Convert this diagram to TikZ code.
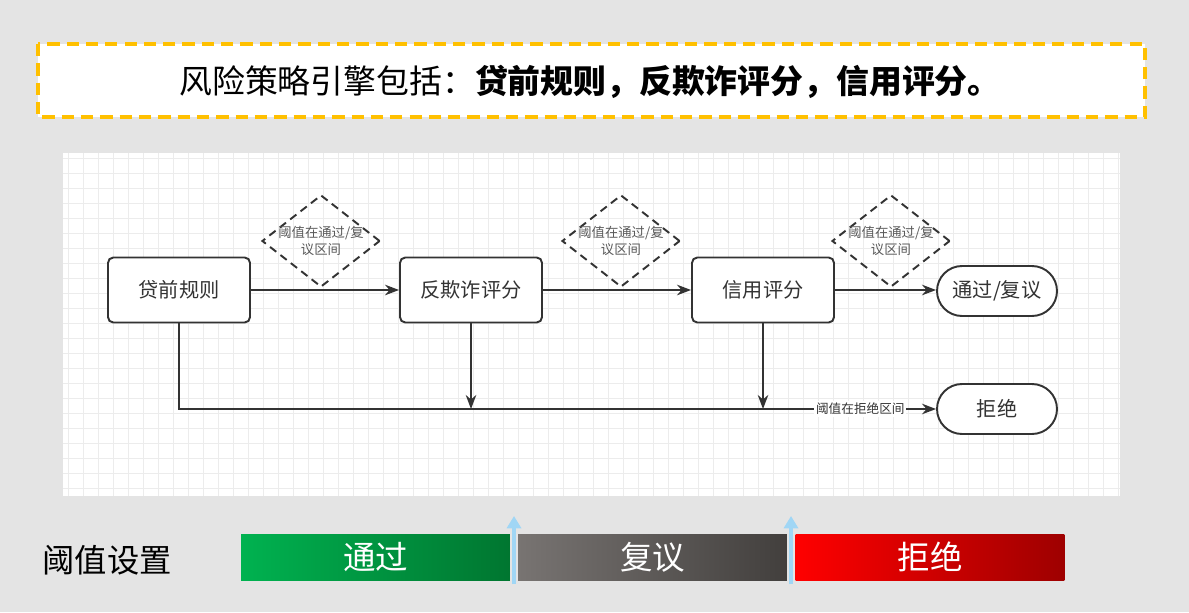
\documentclass[tikz,border=0pt]{standalone}
\usepackage{fontspec}
\setmainfont{Noto Sans CJK SC}
\usepackage{xcolor}
\definecolor{mybg}          {RGB}{228, 228, 228}
\definecolor{myo}           {RGB}{255, 192, 0}
\definecolor{myline}        {RGB}{51, 51, 51}
\definecolor{mygrid}        {RGB}{236, 236, 236}
\definecolor{mycond}        {RGB}{90, 90, 90}
\definecolor{mygl}          {RGB}{0, 178, 80}
\definecolor{mygd}          {RGB}{0, 118, 48}
\definecolor{mykl}          {RGB}{120, 116, 114}
\definecolor{mykd}          {RGB}{66, 63, 61}
\definecolor{myrl}          {RGB}{255, 0, 0}
\definecolor{myrd}          {RGB}{158, 0, 0}
\definecolor{myarr}         {RGB}{160, 214, 245}
\usetikzlibrary{arrows.meta, positioning, shapes.geometric}

\begin{document}
\begin{tikzpicture}[x=0.02cm, y=-0.02cm, every node/.style={align=center},
		procbox/.style={draw=myline, line width=1.1pt, rounded corners=3pt, fill=white, minimum width=2.84cm, minimum height=1.3cm, text=myline, font=\fontsize{11.5}{14}\selectfont},
		endbox/.style={draw=myline, line width=1.1pt, rounded corners=0.5cm, fill=white, minimum width=2.4cm, minimum height=1cm, text=myline, font=\fontsize{11.5}{14}\selectfont},
		condbox/.style={diamond, draw=myline, line width=1.1pt, dash pattern=on 4.5pt off 3pt, aspect=1.28, inner sep=-3pt, minimum width=2.36cm, minimum height=1.84cm, text=mycond, font=\fontsize{7.6}{9.5}\selectfont},
		flow/.style={draw=myline, line width=1.1pt, -{Stealth[length=8pt, width=6pt]}},
		barbox/.style={minimum width=5.38cm, minimum height=0.92cm, inner sep=0pt, text=white, font=\fontsize{18.5}{22}\selectfont}]
		% background
		\fill[mybg] (0,0) rectangle (1189,612);
		\useasboundingbox (0,0) rectangle (1189,612);
		% title
		\draw[myo, fill=white, line width=2.4pt, dash pattern=on 7pt off 4pt] (38,44) rectangle (1145,117);
		\node[font=\fontsize{18.7}{22}\selectfont] (title) at (590,82) {风险策略引擎包括：\textbf{贷前规则，反欺诈评分，信用评分。}};
		% canvas with grid
		\fill[white] (63,153) rectangle (1120,496);
		\foreach \gx in {68,83,...,1118} \draw[mygrid, line width=0.5pt] (\gx,153) -- (\gx,496);
		\foreach \gy in {158,173,...,494} \draw[mygrid, line width=0.5pt] (63,\gy) -- (1120,\gy);
		% flow
		\node[procbox] (dq) at (179,290) {贷前规则};
		\node[procbox] (fq) at (471,290) {反欺诈评分};
		\node[procbox] (xy) at (763,290) {信用评分};
		\node[endbox] (tg) at (997,291) {通过/复议};
		\node[endbox] (jj) at (997,409) {拒绝};
		\node[condbox] (c1) at (321,241) {阈值在通过/复\\议区间};
		\node[condbox] (c2) at (621,241) {阈值在通过/复\\议区间};
		\node[condbox] (c3) at (891,241) {阈值在通过/复\\议区间};
		\draw[flow] (dq) -- (fq);
		\draw[flow] (fq) -- (xy);
		\draw[flow] (xy.east) -- (tg.west |- xy.east);
		\draw[flow, line width=0.9pt] (dq.south) |- (jj.west) node[pos=0.95, fill=white, inner sep=1pt, text=myline, font=\fontsize{7.2}{9}\selectfont] (lab) {阈值在拒绝区间};
		\draw[flow, line width=0.9pt] (fq.south) -- (fq.south |- jj.west);
		\draw[flow, line width=0.9pt] (xy.south) -- (xy.south |- jj.west);
		% threshold bar
		\node[font=\fontsize{18.4}{22}\selectfont] (yz) at (107,560) {阈值设置};
		\node[barbox, left color=mygl, right color=mygd] (bp) at (375.5,557) {通过};
		\node[barbox, left color=mykl, right color=mykd] (br) at (652.5,557) {复议};
		\node[barbox, left color=myrl, right color=myrd] (bj) at (930,557) {拒绝};
		\coordinate (a1) at (514,584);
		\coordinate (a2) at (791,584);
		\draw[myarr, line width=2.6pt, -{Triangle[length=7pt, width=8pt]}] (a1) -- ++(0,-68);
		\draw[myarr, line width=2.6pt, -{Triangle[length=7pt, width=8pt]}] (a2) -- ++(0,-68);
	\end{tikzpicture}
\end{document}
